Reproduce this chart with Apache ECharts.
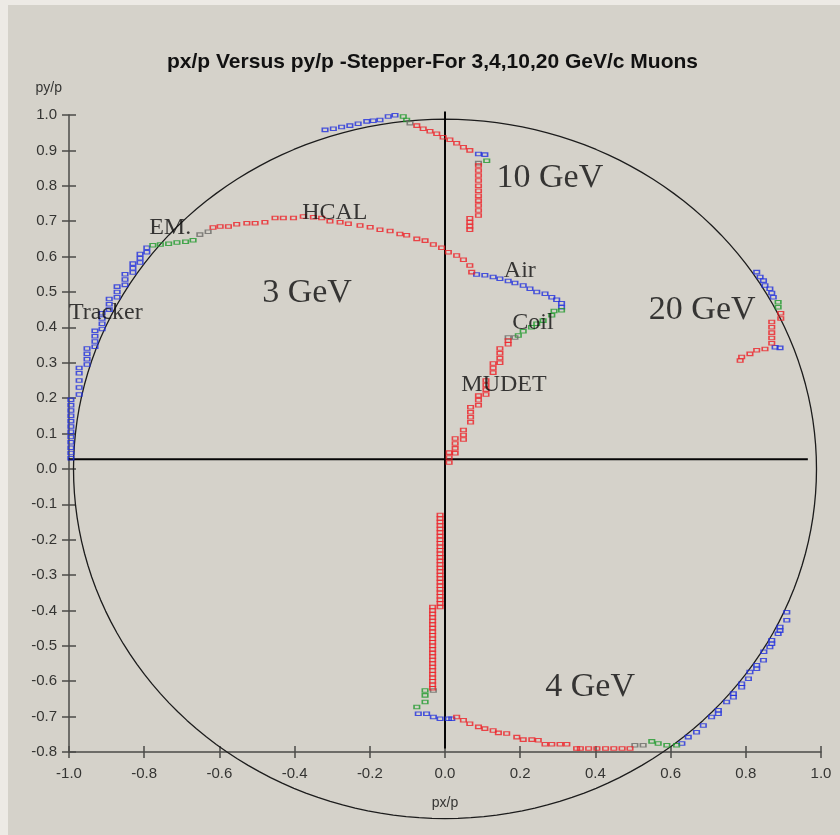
<!DOCTYPE html>
<html>
<head>
<meta charset="utf-8">
<script src="https://cdn.jsdelivr.net/npm/echarts@6/dist/echarts.min.js"></script>
<style>
  html, body { margin: 0; padding: 0; background: #edeae5; }
  #frame { position: relative; width: 840px; height: 835px; overflow: hidden; }
  #chart { position: absolute; left: 8px; top: 5px; width: 832px; height: 830px; }
</style>
</head>
<body>
<div id="frame"><div id="chart"></div></div>
<script>
// ---- axis ranges ----
const xRange = [-1.0, 1.0];
const yRange = [-0.8, 1.0];

// ---- 3 GeV/c muon ----
const mu3Tracker = [
  [-0.995,0.030],[-0.995,0.045],[-0.995,0.060],[-0.995,0.075],[-0.995,0.090],[-0.995,0.105],
  [-0.995,0.120],[-0.995,0.135],[-0.995,0.150],[-0.995,0.165],[-0.995,0.180],[-0.995,0.195],
  [-0.973,0.210],[-0.973,0.230],[-0.973,0.250],[-0.973,0.270],[-0.973,0.285],
  [-0.952,0.295],[-0.952,0.310],[-0.952,0.325],[-0.952,0.340],
  [-0.931,0.345],[-0.931,0.360],[-0.931,0.375],[-0.931,0.390],
  [-0.912,0.395],[-0.912,0.410],[-0.912,0.425],[-0.912,0.440],
  [-0.893,0.450],[-0.893,0.465],[-0.893,0.480],
  [-0.872,0.485],[-0.872,0.500],[-0.872,0.515],
  [-0.851,0.520],[-0.851,0.535],[-0.851,0.550],
  [-0.830,0.555],[-0.830,0.567],[-0.830,0.580],
  [-0.811,0.583],[-0.811,0.595],[-0.811,0.607],
  [-0.793,0.612],[-0.793,0.625]
];
const mu3Em = [[-0.777,0.632],[-0.757,0.634],[-0.735,0.636],[-0.713,0.640],[-0.690,0.642],[-0.670,0.646]];
const mu3EmGap = [[-0.652,0.662],[-0.630,0.670]];
const mu3Hcal = [
  [-0.617,0.682],[-0.598,0.685],[-0.576,0.685],[-0.554,0.691],[-0.527,0.694],[-0.505,0.694],
  [-0.479,0.697],[-0.452,0.709],[-0.430,0.709],[-0.403,0.709],[-0.377,0.713],[-0.350,0.711],
  [-0.328,0.709],[-0.306,0.700],[-0.279,0.697],[-0.257,0.693],[-0.226,0.688],[-0.199,0.683],
  [-0.173,0.676],[-0.146,0.672],[-0.120,0.664],[-0.102,0.660],[-0.075,0.650],[-0.053,0.645],
  [-0.031,0.634],[-0.009,0.625],[0.009,0.612],[0.031,0.603],[0.049,0.591],[0.066,0.575],[0.071,0.556]
];
const mu3Air = [
  [0.084,0.549],[0.106,0.547],[0.128,0.542],[0.146,0.537],[0.168,0.531],[0.186,0.525],[0.208,0.518],
  [0.226,0.509],[0.244,0.500],[0.266,0.495],[0.284,0.485],[0.297,0.478],[0.310,0.468],[0.310,0.457]
];
const mu3Coil = [[0.310,0.448],[0.290,0.446],[0.284,0.434],[0.261,0.419],[0.244,0.410],[0.230,0.400],[0.208,0.389],[0.195,0.377]];
const mu3CoilGap = [[0.186,0.371],[0.168,0.371]];
const mu3Mudet = [
  [0.168,0.363],[0.168,0.352],[0.146,0.340],[0.146,0.327],[0.146,0.313],[0.146,0.300],
  [0.128,0.298],[0.128,0.285],[0.128,0.272],[0.109,0.250],[0.109,0.237],[0.109,0.224],[0.109,0.210],
  [0.089,0.207],[0.089,0.194],[0.089,0.180],[0.068,0.174],[0.068,0.160],[0.068,0.146],[0.068,0.132],
  [0.049,0.110],[0.049,0.096],[0.049,0.083],[0.027,0.086],[0.027,0.072],[0.027,0.058],[0.027,0.044],
  [0.011,0.046],[0.011,0.032],[0.011,0.018]
];

// ---- 10 GeV/c muon ----
const mu10Tracker = [[-0.319,0.958],[-0.297,0.961],[-0.275,0.966],[-0.253,0.970],[-0.231,0.975],[-0.208,0.982],[-0.191,0.984],[-0.173,0.986],[-0.151,0.996],[-0.133,0.999]];
const mu10Em = [[-0.111,0.996],[-0.102,0.986]];
const mu10EmGap = [[-0.093,0.977]];
const mu10Hcal = [[-0.075,0.970],[-0.058,0.961],[-0.040,0.954],[-0.022,0.947],[-0.005,0.937],[0.013,0.930],[0.031,0.920],[0.049,0.909],[0.066,0.900]];
const mu10Air = [[0.089,0.890],[0.106,0.888]];
const mu10Coil = [[0.111,0.871]];
const mu10CoilGap = [[0.089,0.864]];
const mu10Mudet = [
  [0.089,0.857],[0.089,0.843],[0.089,0.829],[0.089,0.815],[0.089,0.800],[0.089,0.786],[0.089,0.772],
  [0.089,0.758],[0.089,0.744],[0.089,0.730],[0.089,0.716],[0.066,0.708],[0.066,0.697],[0.066,0.686],[0.066,0.676]
];

// ---- 20 GeV/c muon ----
const mu20Tracker = [[0.829,0.556],[0.838,0.542],[0.847,0.532],[0.851,0.518],[0.864,0.509],[0.869,0.497],[0.873,0.485]];
const mu20Em = [[0.886,0.471],[0.886,0.457]];
const mu20Hcal = [[0.893,0.440],[0.893,0.425],[0.869,0.415],[0.869,0.400],[0.869,0.385],[0.869,0.370],[0.869,0.355]];
const mu20Air = [[0.878,0.344],[0.891,0.342]];
const mu20Mudet = [[0.851,0.339],[0.829,0.335],[0.811,0.325],[0.789,0.316],[0.785,0.306]];

// ---- 4 GeV/c muon ----
const mu4Tracker = [
  [0.909,-0.405],[0.909,-0.428],[0.891,-0.447],[0.891,-0.457],[0.886,-0.466],[0.869,-0.484],[0.869,-0.494],
  [0.864,-0.503],[0.848,-0.517],[0.847,-0.541],[0.829,-0.555],[0.829,-0.565],[0.811,-0.574],[0.807,-0.593],
  [0.789,-0.607],[0.789,-0.617],[0.767,-0.635],[0.767,-0.645],[0.749,-0.659],[0.727,-0.682],[0.727,-0.692],
  [0.709,-0.701],[0.687,-0.725],[0.669,-0.744],[0.647,-0.758],[0.630,-0.776]
];
const mu4Em = [[0.616,-0.781],[0.590,-0.781],[0.567,-0.776],[0.550,-0.770]];
const mu4EmGap = [[0.527,-0.781],[0.505,-0.781]];
const mu4Hcal = [
  [0.492,-0.790],[0.471,-0.790],[0.449,-0.790],[0.427,-0.790],[0.404,-0.790],[0.382,-0.790],[0.360,-0.790],
  [0.350,-0.790],[0.324,-0.778],[0.306,-0.778],[0.284,-0.778],[0.266,-0.778],[0.248,-0.767],[0.231,-0.765],
  [0.208,-0.765],[0.191,-0.758],[0.164,-0.748],[0.142,-0.746],[0.128,-0.739],[0.106,-0.734],[0.089,-0.729],
  [0.066,-0.720],[0.049,-0.710],[0.031,-0.701]
];
const mu4Air = [[0.018,-0.706],[0.009,-0.706],[-0.013,-0.706],[-0.031,-0.701],[-0.049,-0.692],[-0.071,-0.692]];
const mu4Coil = [[-0.075,-0.673],[-0.053,-0.659],[-0.053,-0.640],[-0.053,-0.626]];
const mu4CoilGap = [[-0.031,-0.626]];
const mu4Mudet = [
  [-0.033,-0.620],[-0.033,-0.610],[-0.033,-0.600],[-0.033,-0.590],[-0.033,-0.580],[-0.033,-0.570],
  [-0.033,-0.560],[-0.033,-0.550],[-0.033,-0.540],[-0.033,-0.530],[-0.033,-0.520],[-0.033,-0.510],
  [-0.033,-0.500],[-0.033,-0.490],[-0.033,-0.480],[-0.033,-0.470],[-0.033,-0.460],[-0.033,-0.450],
  [-0.033,-0.440],[-0.033,-0.430],[-0.033,-0.420],[-0.033,-0.410],[-0.033,-0.400],[-0.033,-0.390],
  [-0.013,-0.390],[-0.013,-0.380],[-0.013,-0.370],[-0.013,-0.360],[-0.013,-0.350],[-0.013,-0.340],
  [-0.013,-0.330],[-0.013,-0.320],[-0.013,-0.310],[-0.013,-0.300],[-0.013,-0.290],[-0.013,-0.280],
  [-0.013,-0.270],[-0.013,-0.260],[-0.013,-0.250],[-0.013,-0.240],[-0.013,-0.230],[-0.013,-0.220],
  [-0.013,-0.210],[-0.013,-0.200],[-0.013,-0.190],[-0.013,-0.180],[-0.013,-0.170],[-0.013,-0.160],
  [-0.013,-0.150],[-0.013,-0.140],[-0.013,-0.130]
];

// ---- reference guides ----
const unitRadius = 0.988;
const horizontalGuide = [[-1.02,0.027],[0.965,0.027]];
const verticalGuide = [[0.0,1.01],[0.0,-0.79]];

// ---- text annotations ----
const energyNames = ['3 GeV','4 GeV','10 GeV','20 GeV'];
const energyAt = [[-0.367,0.496],[0.386,-0.617],[0.279,0.823],[0.684,0.448]];
const detectorNames = ['Tracker','EM.','HCAL','Air','Coil','MUDET'];
const detectorAt = [[-0.902,0.442],[-0.731,0.682],[-0.293,0.725],[0.199,0.561],[0.234,0.414],[0.157,0.239]];

// ---- drawing ----
const RED = '#ee1f25', BLUE = '#2030dd', GREEN = '#1e9a2c', GREY = '#6a6a66';

const circlePts = [];
for (let i = 0; i <= 360; i += 2) {
  const a = i * Math.PI / 180;
  circlePts.push([unitRadius * Math.cos(a), unitRadius * Math.sin(a)]);
}

function markers(name, color, data) {
  return {
    name, type: 'scatter', data, z: 5,
    symbol: 'rect', symbolSize: [5.5, 3.5],
    itemStyle: { color: 'rgba(0,0,0,0)', borderColor: color, borderWidth: 1.3 },
    silent: true
  };
}
function guide(data, color, width) {
  return {
    type: 'line', data, clip: false, symbol: 'none', smooth: false, z: 3,
    lineStyle: { color, width }, silent: true
  };
}
function textSeries(names, at, size) {
  return {
    type: 'scatter', symbolSize: 0, z: 6, silent: true,
    data: names.map((n, i) => ({ name: n, value: at[i] })),
    label: {
      show: true, position: 'inside', formatter: '{b}',
      fontFamily: 'Liberation Serif', fontSize: size, color: '#0c0c0c'
    }
  };
}

const tickFmt = v => (Math.abs(v) < 1e-9 ? 0 : v).toFixed(1);
const axisColor = '#4b4b48';
const labelStyle = { fontFamily: 'Liberation Sans', fontSize: 15, color: '#353533' };

const chart = echarts.init(document.getElementById('chart'), null, { renderer: 'canvas' });
chart.setOption({
  backgroundColor: '#d5d2ca',
  animation: false,
  title: {
    text: 'px/p Versus py/p -Stepper-For 3,4,10,20 GeV/c Muons',
    left: 154, top: 42,
    textStyle: { fontFamily: 'Liberation Sans', fontWeight: 'bold', fontSize: 21, color: '#111' }
  },
  grid: { left: 61, right: 19, top: 110, bottom: 83 },
  xAxis: [{
    type: 'value', min: xRange[0], max: xRange[1], interval: 0.2, position: 'bottom',
    name: 'px/p', nameLocation: 'middle', nameGap: 44,
    nameTextStyle: { fontFamily: 'Liberation Sans', fontSize: 14, color: '#353533' },
    axisLine: { onZero: false, lineStyle: { color: axisColor, width: 1.5 } },
    axisTick: { length: 6, lineStyle: { color: axisColor, width: 1.5 } },
    axisLabel: Object.assign({ margin: 14, formatter: tickFmt }, labelStyle),
    splitLine: { show: false }
  }, {
    type: 'value', min: xRange[0], max: xRange[1], interval: 0.2, position: 'bottom',
    axisLine: { show: false, onZero: false },
    axisTick: { inside: true, length: 6, lineStyle: { color: axisColor, width: 1.5 } },
    axisLabel: { show: false }, splitLine: { show: false }
  }],
  yAxis: [{
    type: 'value', min: yRange[0], max: yRange[1], interval: 0.1, position: 'left',
    name: 'py/p', nameLocation: 'end', nameGap: 20,
    nameTextStyle: { fontFamily: 'Liberation Sans', fontSize: 14, color: '#353533', align: 'right', padding: [0, 7, 0, 0] },
    axisLine: { onZero: false, lineStyle: { color: axisColor, width: 1.5 } },
    axisTick: { length: 7, lineStyle: { color: axisColor, width: 1.5 } },
    axisLabel: Object.assign({ margin: 12, formatter: tickFmt }, labelStyle),
    splitLine: { show: false }
  }, {
    type: 'value', min: yRange[0], max: yRange[1], interval: 0.1, position: 'left',
    axisLine: { show: false, onZero: false },
    axisTick: { inside: true, length: 7, lineStyle: { color: axisColor, width: 1.5 } },
    axisLabel: { show: false }, splitLine: { show: false }
  }],
  series: [
    guide(circlePts, '#1c1c1c', 1.3),
    guide(horizontalGuide, '#050505', 2),
    guide(verticalGuide, '#050505', 2),
    markers('Tracker / Air', BLUE, [].concat(mu3Tracker, mu3Air, mu10Tracker, mu10Air, mu20Tracker, mu20Air, mu4Tracker, mu4Air)),
    markers('EM / Coil', GREEN, [].concat(mu3Em, mu3Coil, mu10Em, mu10Coil, mu20Em, mu4Em, mu4Coil)),
    markers('Gaps', GREY, [].concat(mu3EmGap, mu3CoilGap, mu10EmGap, mu10CoilGap, mu4EmGap, mu4CoilGap)),
    markers('HCAL / MUDET', RED, [].concat(mu3Hcal, mu3Mudet, mu10Hcal, mu10Mudet, mu20Hcal, mu20Mudet, mu4Hcal, mu4Mudet)),
    textSeries(energyNames, energyAt, 34),
    textSeries(detectorNames, detectorAt, 24)
  ]
});
</script>
</body>
</html>
